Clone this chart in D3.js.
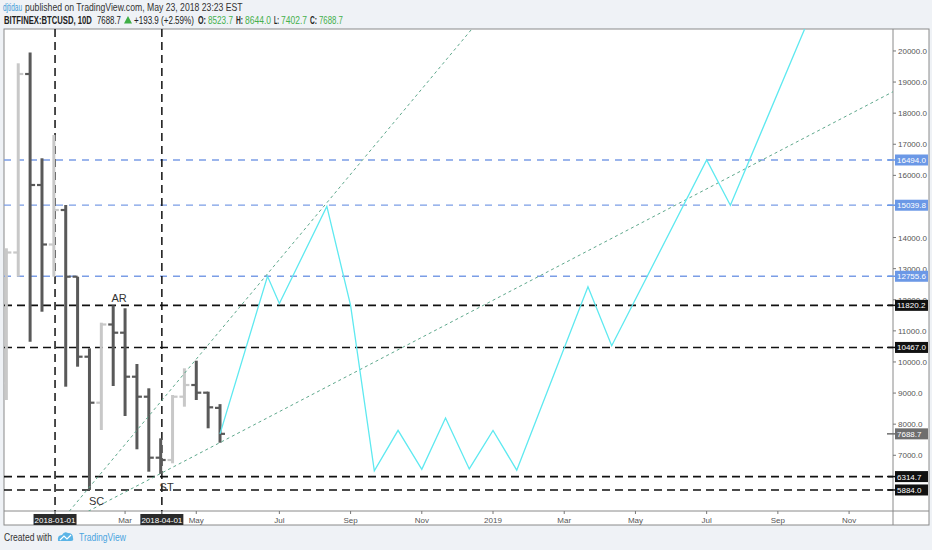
<!DOCTYPE html>
<html>
<head>
<meta charset="utf-8">
<script src="https://cdn.jsdelivr.net/npm/d3@7"></script>
<style>
  body { margin: 0; background: #eff2f6; }
  svg { display: block; font-family: "Liberation Sans", Arial, sans-serif; }
</style>
</head>
<body>
<svg id="chart"></svg>
<script>
const width = 932;
const height = 550;
const margin = { top: 29, right: 39, bottom: 39, left: 4 };

// 10D OHLC bars
const barDates = ["2017-11-21","2017-12-01","2017-12-11","2017-12-21","2017-12-31","2018-01-10","2018-01-20",
  "2018-01-30","2018-02-09","2018-02-19","2018-03-01","2018-03-11","2018-03-21","2018-03-31","2018-04-10",
  "2018-04-20","2018-04-30","2018-05-10","2018-05-20"];
const barOpen  = [9314, 13520, 19259, 15690, 13777, 14886, 12742, 10169, 8690, 11205, 10941, 9526, 8883, 6922, 6848, 8883, 9259, 9012, 8523.7];
const barHigh  = [13655, 19603, 19950, 16549, 17298, 15047, 12742, 10439, 11263, 11820, 11726, 9935, 9153, 7545, 8938, 9796, 10041, 9044, 8644.0];
const barLow   = [8777, 12742, 10652, 11616, 12742, 9205, 9848, 5884, 7812, 9227, 8263, 7192, 6472, 6400, 6742, 8562, 8777, 7867, 7402.7];
const barClose = [13520, 19259, 15690, 13777, 14886, 12742, 10169, 8690, 11205, 10941, 9526, 8883, 6922, 6848, 8883, 9259, 9012, 8542, 7688.7];

// horizontal levels
const blueLevels = [16494.0, 15039.8, 12755.6];
const blackLevels = [11820.2, 10467.0, 6314.7, 5884.0];
const lastPrice = 7688.7;

// vertical markers
const markerDates = ["2018-01-01", "2018-04-01"];

// projected path
const pathDates = ["2018-05-20","2018-06-29","2018-07-09","2018-08-18","2018-09-07","2018-09-27","2018-10-17",
  "2018-11-06","2018-11-26","2018-12-16","2019-01-05","2019-01-25","2019-03-26","2019-04-15","2019-07-04",
  "2019-07-24","2019-10-03"];
const pathPrices = [7688.7, 12755, 11880, 15000, 11820, 6500, 7800, 6550, 8200, 6560, 7800, 6520, 12420, 10520, 16494, 15040, 21470];

// trend lines (two anchors each, extended right)
const trend1Dates = ["2018-01-13", "2018-08-18"];
const trend1Prices = [5200, 15120];
const trend2Dates = ["2018-01-29", "2019-10-18"];
const trend2Prices = [5200, 17674];

// labels on chart
const noteText = ["AR", "SC", "ST"];
const noteDates = ["2018-02-24", "2018-02-05", "2018-04-05"];
const notePrices = [12047, 5530, 5990];

// axis ticks
const xTickDates = ["2018-03-01","2018-04-30","2018-07-09","2018-09-07","2018-11-06","2019-01-05",
  "2019-03-06","2019-05-05","2019-07-04","2019-09-02","2019-11-01"];
const xTickLabels = ["Mar","May","Jul","Sep","Nov","2019","Mar","May","Jul","Sep","Nov"];
const yTicks = d3.range(6000, 20001, 1000);

const parse = d3.utcParse("%Y-%m-%d");

const svg = d3.select("#chart").attr("width", width).attr("height", height);

const plotL = margin.left, plotR = width - margin.right, plotT = margin.top, plotB = height - margin.bottom;
const panelR = 929, panelB = 525;

const x = d3.scaleUtc()
  .domain([parse("2017-11-19"), parse("2019-12-08")])
  .range([plotL, plotR]);
const y = d3.scaleLinear()
  .domain([5208, 20706])
  .range([plotB, plotT]);

// panel
svg.append("rect").attr("x", plotL).attr("y", plotT).attr("width", panelR - plotL).attr("height", panelB - plotT)
   .attr("fill", "#fff").attr("stroke", "#8a8a8a").attr("stroke-width", 1);
svg.append("line").attr("x1", plotR).attr("x2", plotR).attr("y1", plotT).attr("y2", panelB)
   .attr("stroke", "#8a8a8a");
svg.append("line").attr("x1", plotL).attr("x2", panelR).attr("y1", plotB).attr("y2", plotB)
   .attr("stroke", "#8a8a8a");

svg.append("clipPath").attr("id", "plotclip")
   .append("rect").attr("x", plotL).attr("y", plotT).attr("width", plotR - plotL).attr("height", plotB - plotT);

const plot = svg.append("g").attr("clip-path", "url(#plotclip)");

// horizontal levels
plot.selectAll(".blue-level").data(blueLevels).enter().append("line")
  .attr("x1", plotL).attr("x2", plotR)
  .attr("y1", d => y(d)).attr("y2", d => y(d))
  .attr("stroke", "#7b9de6").attr("stroke-width", 1.3).attr("stroke-dasharray", "7,6");
plot.selectAll(".black-level").data(blackLevels).enter().append("line")
  .attr("x1", plotL).attr("x2", plotR)
  .attr("y1", d => y(d)).attr("y2", d => y(d))
  .attr("stroke", "#111").attr("stroke-width", 1.6).attr("stroke-dasharray", "8,5");

// vertical markers
plot.selectAll(".vmark").data(markerDates).enter().append("line")
  .attr("x1", d => x(parse(d))).attr("x2", d => x(parse(d)))
  .attr("y1", plotT).attr("y2", plotB)
  .attr("stroke", "#111").attr("stroke-width", 1.5).attr("stroke-dasharray", "8,5");

// OHLC bars
const bars = barDates.map((d, i) => ({ date: parse(d), o: barOpen[i], h: barHigh[i], l: barLow[i], c: barClose[i] }));
const bar = plot.selectAll(".bar").data(bars).enter().append("g")
  .attr("stroke", d => d.c >= d.o ? "#c8c8c8" : "#595959");
bar.append("line").attr("x1", d => x(d.date)).attr("x2", d => x(d.date))
  .attr("y1", d => y(d.h)).attr("y2", d => y(d.l)).attr("stroke-width", 3);
bar.append("line").attr("x1", d => x(d.date) - 5).attr("x2", d => x(d.date))
  .attr("y1", d => y(d.o)).attr("y2", d => y(d.o)).attr("stroke-width", 2.2);
bar.append("line").attr("x1", d => x(d.date)).attr("x2", d => x(d.date) + 5)
  .attr("y1", d => y(d.c)).attr("y2", d => y(d.c)).attr("stroke-width", 2.2);

// trend lines extended to the right edge
function ray(dates, prices) {
  const t1 = parse(dates[0]), t2 = parse(dates[1]);
  const tEnd = x.domain()[1];
  const pEnd = prices[0] + (prices[1] - prices[0]) * (tEnd - t1) / (t2 - t1);
  return [[t1, prices[0]], [tEnd, pEnd]];
}
const lineGen = d3.line().x(d => x(d[0])).y(d => y(d[1]));
[ray(trend1Dates, trend1Prices), ray(trend2Dates, trend2Prices)].forEach(pts => {
  plot.append("path").attr("d", lineGen(pts))
    .attr("fill", "none").attr("stroke", "#5ea88c").attr("stroke-width", 1)
    .attr("stroke-dasharray", "3,3");
});

// projected path
plot.append("path")
  .attr("d", lineGen(pathDates.map((d, i) => [parse(d), pathPrices[i]])))
  .attr("fill", "none").attr("stroke", "#5ee9f0").attr("stroke-width", 1.3);

// notes
plot.selectAll(".note").data(noteText).enter().append("text")
  .attr("x", (d, i) => x(parse(noteDates[i])))
  .attr("y", (d, i) => y(notePrices[i]) + 4)
  .attr("text-anchor", "middle").attr("font-size", 11).attr("fill", "#333")
  .text(d => d);

// right axis
const allLevels = blueLevels.concat(blackLevels, [lastPrice]);
const visTicks = yTicks.filter(t => t <= y.domain()[1] && allLevels.every(l => Math.abs(y(t) - y(l)) > 5));
const yAxis = svg.append("g");
yAxis.selectAll("line").data(visTicks).enter().append("line")
  .attr("x1", plotR).attr("x2", plotR + 3).attr("y1", d => y(d)).attr("y2", d => y(d))
  .attr("stroke", "#777");
yAxis.selectAll("text").data(visTicks).enter().append("text")
  .attr("x", plotR + 5).attr("y", d => y(d) + 3)
  .attr("font-size", 8).attr("fill", "#555")
  .text(d3.format(".1f"));

function priceBox(v, fill) {
  const g = svg.append("g");
  g.append("line").attr("x1", plotR - 6).attr("x2", plotR + 2).attr("y1", y(v)).attr("y2", y(v))
    .attr("stroke", fill).attr("stroke-width", 1.5);
  g.append("rect").attr("x", plotR + 2).attr("y", y(v) - 5.5).attr("width", 33).attr("height", 11)
    .attr("fill", fill);
  g.append("text").attr("x", plotR + 4).attr("y", y(v) + 3)
    .attr("font-size", 8).attr("fill", "#fff").text(d3.format(".1f")(v));
}
blueLevels.forEach(v => priceBox(v, "#6b98e6"));
blackLevels.forEach(v => priceBox(v, "#111"));
priceBox(lastPrice, "#6e6e6e");

// bottom axis
const xAxis = svg.append("g");
xAxis.selectAll("line").data(xTickDates).enter().append("line")
  .attr("x1", d => x(parse(d))).attr("x2", d => x(parse(d)))
  .attr("y1", plotB).attr("y2", plotB + 3).attr("stroke", "#777");
xAxis.selectAll("text").data(xTickDates).enter().append("text")
  .attr("x", d => x(parse(d))).attr("y", plotB + 12)
  .attr("text-anchor", "middle").attr("font-size", 8).attr("fill", "#555")
  .text((d, i) => xTickLabels[i]);
markerDates.forEach(d => {
  const cx = x(parse(d));
  xAxis.append("line").attr("x1", cx).attr("x2", cx).attr("y1", plotB).attr("y2", plotB + 3).attr("stroke", "#333");
  xAxis.append("rect").attr("x", cx - 21.5).attr("y", plotB + 3).attr("width", 43).attr("height", 11)
    .attr("fill", "#2b2b2b");
  xAxis.append("text").attr("x", cx).attr("y", plotB + 12).attr("text-anchor", "middle")
    .attr("font-size", 8).attr("fill", "#fff").text(d);
});

// condensed text: squeeze horizontally to the width of the original lettering
function narrowText(t, x0, y0, w, size, color, bold) {
  const el = svg.append("text").attr("font-size", size).attr("fill", color)
    .attr("font-weight", bold ? "bold" : "normal").text(t);
  const natural = el.node().getComputedTextLength();
  el.attr("transform", `translate(${x0},${y0}) scale(${w / natural},1)`);
}

// header
const header = [
  { t: "djtidau", x: 3, w: 19, y: 11, c: "#3e9ad6", b: false, s: 10.5 },
  { t: "published on TradingView.com, May 23, 2018 23:23 EST", x: 25, w: 218, y: 11, c: "#333", b: false, s: 10.5 },
  { t: "BITFINEX:BTCUSD, 10D", x: 4, w: 88, y: 24, c: "#222", b: true, s: 10 },
  { t: "7688.7", x: 97, w: 24, y: 24, c: "#222", b: false, s: 10 },
  { t: "+193.9 (+2.59%)", x: 134, w: 60, y: 24, c: "#222", b: false, s: 10 },
  { t: "O:", x: 198, w: 8, y: 24, c: "#222", b: true, s: 10 },
  { t: "8523.7", x: 208, w: 25, y: 24, c: "#45b04c", b: false, s: 10 },
  { t: "H:", x: 236, w: 7, y: 24, c: "#222", b: true, s: 10 },
  { t: "8644.0", x: 245, w: 26, y: 24, c: "#45b04c", b: false, s: 10 },
  { t: "L:", x: 274, w: 5, y: 24, c: "#222", b: true, s: 10 },
  { t: "7402.7", x: 281, w: 26, y: 24, c: "#45b04c", b: false, s: 10 },
  { t: "C:", x: 310, w: 7, y: 24, c: "#222", b: true, s: 10 },
  { t: "7688.7", x: 319, w: 24, y: 24, c: "#45b04c", b: false, s: 10 }
];
header.forEach(h => narrowText(h.t, h.x, h.y, h.w, h.s, h.c, h.b));
svg.append("path").attr("d", "M124,23.5 L128,16 L132,23.5 Z").attr("fill", "#3fae46");

// footer
narrowText("Created with", 4, 541, 48, 10, "#333", false);
svg.append("path")
  .attr("d", "M58,541 Q57,535 62,535 Q64,531 68,533 Q73,533 73,538 Q74,541 71,541 Z")
  .attr("fill", "#5ab4e6");
svg.append("path").attr("d", "M60,540 L64,536 L67,539 L71,535")
  .attr("fill", "none").attr("stroke", "#fff").attr("stroke-width", 1.2);
narrowText("TradingView", 79, 541, 47, 10, "#4aa4df", false);
</script>
</body>
</html>
